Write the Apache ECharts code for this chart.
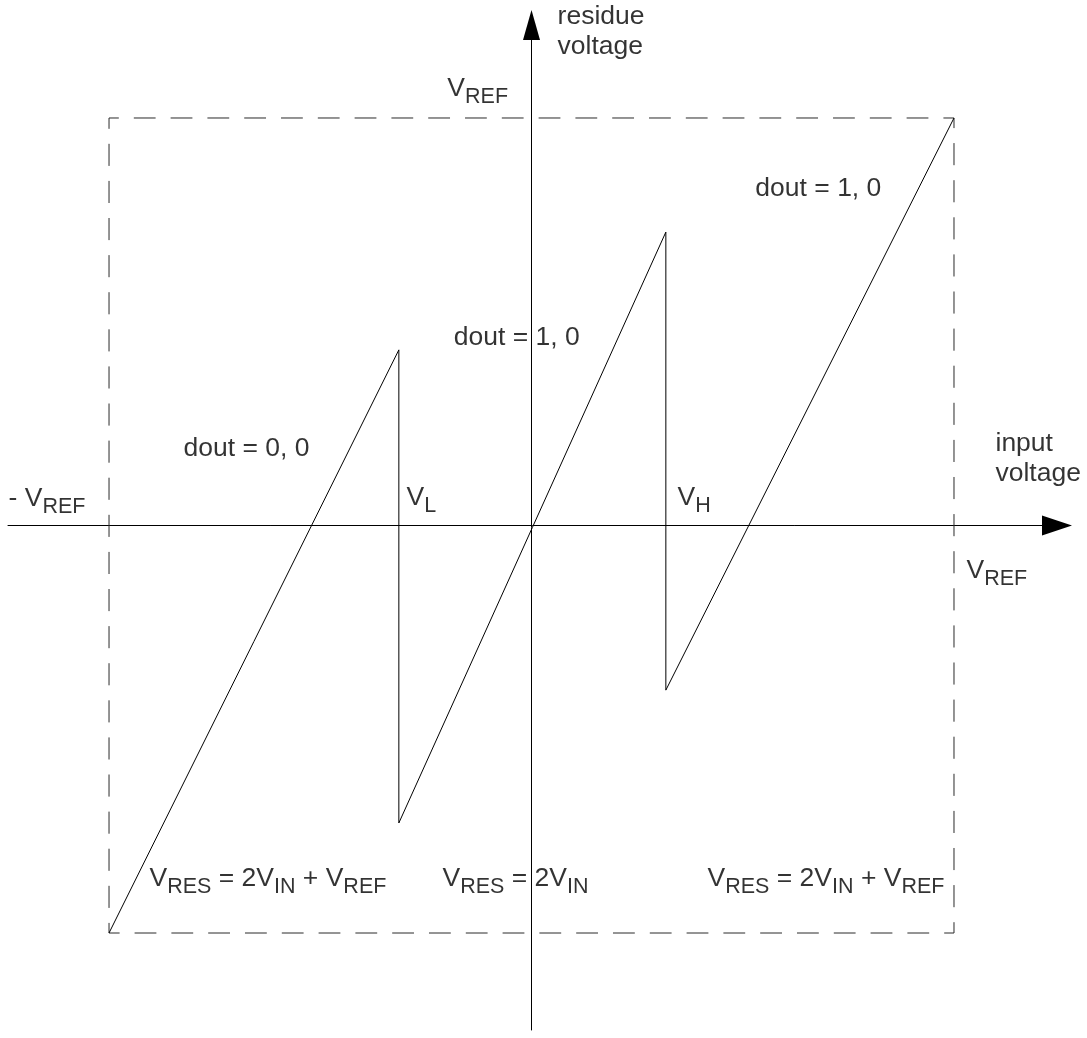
<!DOCTYPE html>
<html>
<head>
<meta charset="utf-8">
<script src="https://cdn.jsdelivr.net/npm/echarts@6/dist/echarts.min.js"></script>
<style>
  html, body { margin: 0; padding: 0; background: #fff; }
  #chart { width: 1087px; height: 1038px; }
</style>
</head>
<body>
<div id="chart"></div>
<script>
// ---- data (units of VREF) ----
const VL = -0.314;
const VH = 0.318;
const sawtooth = [[-1, -1], [VL, 0.431], [VL, -0.73], [VH, 0.72], [VH, -0.404], [1, 1]];
const boxCorners = [[-1, 1], [1, 1], [1, -1], [-1, -1]];
const labelTexts = [
  'residue\nvoltage',
  'V{s|REF}',
  'dout = 1, 0',
  'dout = 1, 0',
  'dout = 0, 0',
  'V{s|L}',
  'V{s|H}',
  '- V{s|REF}',
  'input\nvoltage',
  'V{s|REF}',
  'V{s|RES} = 2V{s|IN} + V{s|REF}',
  'V{s|RES} = 2V{s|IN}',
  'V{s|RES} = 2V{s|IN} + V{s|REF}'
];
const labelAnchors = [
  [0.063, 1.211],
  [-0.198, 1.071],
  [0.531, 0.8245],
  [-0.183, 0.460],
  [-0.8225, 0.1877],
  [-0.2947, 0.0675],
  [0.3467, 0.0675],
  [-1.2367, 0.065],
  [1.0994, 0.1632],
  [1.0308, -0.1117],
  [-0.903, -0.8675],
  [-0.2095, -0.8675],
  [0.4178, -0.8675]
];

const FONT = "'Liberation Sans', Arial, sans-serif";
const chart = echarts.init(document.getElementById('chart'), null, { renderer: 'canvas' });

const sides = [
  { pts: [boxCorners[0], boxCorners[1]], dash: [21.8, 15] },
  { pts: [boxCorners[1], boxCorners[2]], dash: [22.1, 15] },
  { pts: [boxCorners[2], boxCorners[3]], dash: [21.8, 15] },
  { pts: [boxCorners[3], boxCorners[0]], dash: [22.1, 15] }
];

const boxSeries = sides.map(s => ({
  type: 'line',
  data: s.pts,
  symbol: 'none',
  silent: true,
  lineStyle: { color: '#2a2a2a', width: 1, type: s.dash, dashOffset: 12 },
  z: 2
}));

const labelData = labelTexts.map((t, i) => {
  const multi = t.indexOf('\n') >= 0;
  return {
    value: labelAnchors[i],
    label: {
      show: true,
      formatter: t,
      position: [0, 0],
      align: 'left',
      verticalAlign: 'middle',
      fontFamily: FONT,
      fontSize: 26.5,
      color: '#000',
      lineHeight: multi ? 30 : 39.5,
      rich: {
        s: { fontFamily: FONT, fontSize: 21.5, color: '#000', verticalAlign: 'bottom' }
      }
    }
  };
});

chart.setOption({
  animation: false,
  backgroundColor: '#fff',
  grid: { left: 8, right: 30, top: 25, bottom: 8, containLabel: false },
  xAxis: {
    type: 'value', min: -1.2391, max: 1.2438,
    axisLine: { show: true, onZero: true, symbol: ['none', 'triangle'], symbolSize: [20, 30],
      lineStyle: { color: '#000', width: 1 } },
    axisTick: { show: false }, axisLabel: { show: false }, splitLine: { show: false }
  },
  yAxis: {
    type: 'value', min: -1.238, max: 1.2282,
    axisLine: { show: true, onZero: true, symbol: ['none', 'triangle'], symbolSize: [17, 30],
      lineStyle: { color: '#000', width: 1 } },
    axisTick: { show: false }, axisLabel: { show: false }, splitLine: { show: false }
  },
  series: [
    ...boxSeries,
    {
      type: 'line',
      data: sawtooth,
      symbol: 'none',
      silent: true,
      lineStyle: { color: '#000', width: 1 },
      z: 3
    },
    {
      type: 'scatter',
      data: labelData,
      symbolSize: 1,
      itemStyle: { color: 'rgba(0,0,0,0)' },
      silent: true,
      z: 5
    }
  ]
});
</script>
</body>
</html>
